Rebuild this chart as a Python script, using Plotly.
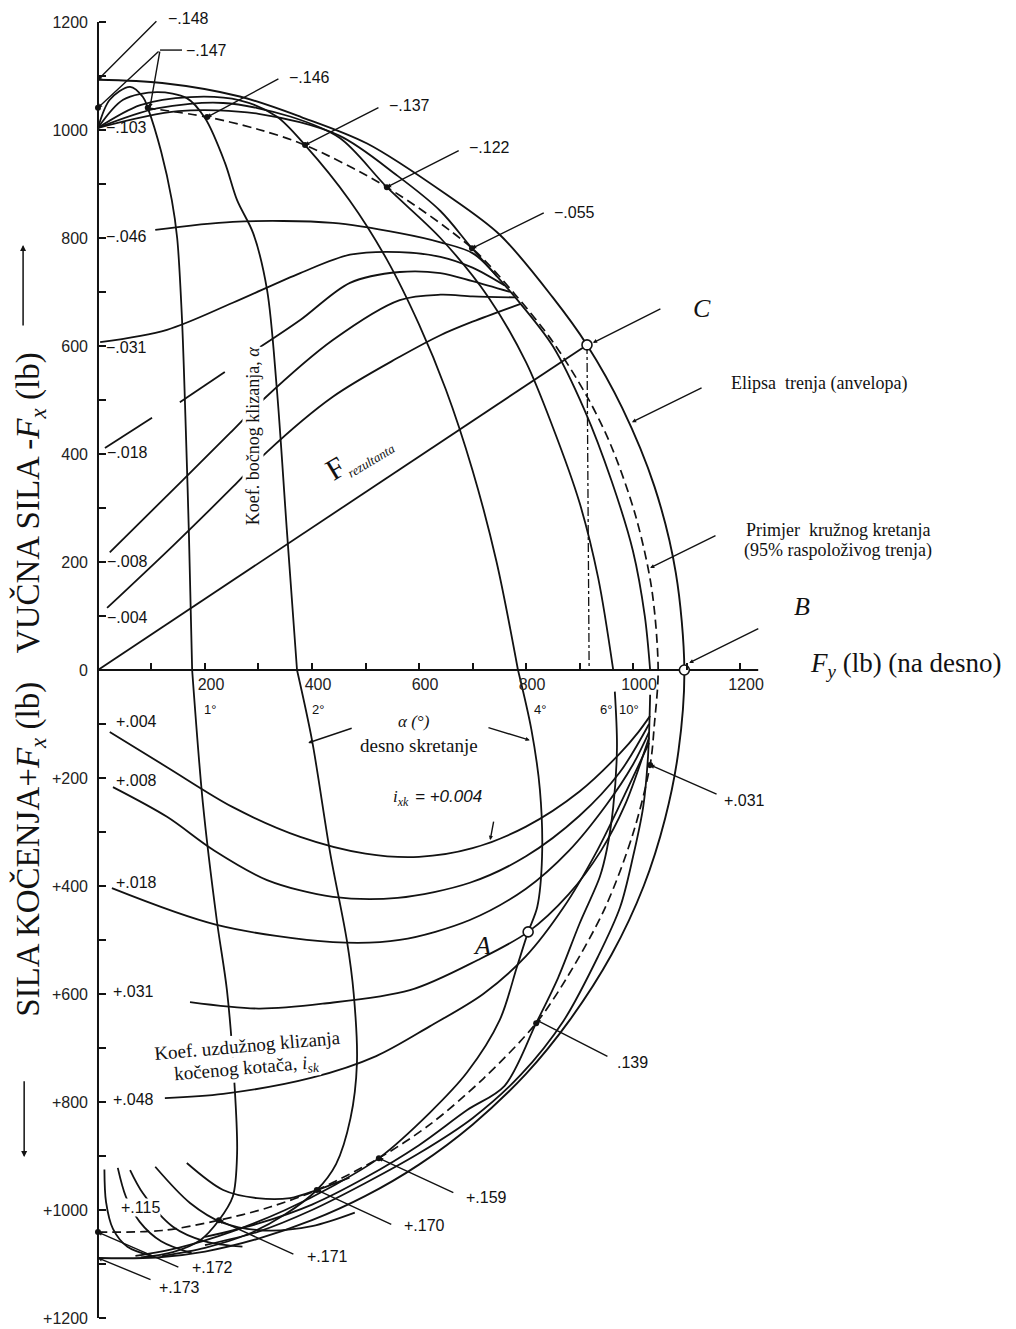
import plotly.graph_objects as go

# ---------------- data (lb) ----------------
# friction ellipse (envelope)
ellipse_x = [0, 120, 265, 380, 503, 652, 751, 850, 914, 980, 1040, 1080, 1096, 1085, 1060, 1020, 960, 882, 800, 700, 600, 500, 400, 300, 200, 110, 0]
ellipse_y = [1093, 1087, 1062, 1024, 975, 880, 806, 690, 602, 485, 340, 180, 0, -150, -275, -400, -527, -648, -748, -842, -916, -974, -1019, -1053, -1077, -1088, -1089]
# example circular path (95 % of available friction)
circle95_x = [90, 204, 300, 387, 540, 699, 780, 850, 916, 960, 1005, 1035, 1047, 1040, 1032, 1000, 948, 880, 819, 720, 620, 525, 409, 320, 226, 120, 0]
circle95_y = [1041, 1024, 1001, 972, 894, 781, 695, 608, 503, 413, 285, 150, 0, -100, -176, -303, -440, -564, -654, -757, -842, -904, -963, -995, -1019, -1038, -1041]
# resultant force and its lateral projection (point C)
resultant_x = [0, 914]
resultant_y = [0, 602]
projection_x = [914, 918]
projection_y = [602, 0]

# slip-angle curves, traction side
alpha1_up_x = [0, 22, 60, 84, 93, 118, 138, 148, 157, 164, 170, 176]
alpha1_up_y = [1004, 1056, 1080, 1061, 1041, 960, 870, 800, 650, 450, 250, 0]
alpha2_up_x = [0, 47, 110, 166, 200, 237, 260, 290, 316, 334, 353, 372]
alpha2_up_y = [1004, 1056, 1070, 1059, 1022, 940, 870, 809, 704, 524, 259, 0]
alpha4_up_x = [0, 79, 172, 265, 334, 387, 470, 540, 600, 650, 700, 745, 785]
alpha4_up_y = [1004, 1046, 1061, 1055, 1025, 972, 870, 760, 640, 520, 370, 200, 0]
alpha6_up_x = [0, 110, 234, 359, 452, 540, 640, 730, 800, 850, 900, 935, 963]
alpha6_up_y = [1004, 1040, 1050, 1025, 985, 894, 800, 690, 570, 450, 310, 170, 0]
alpha10_up_x = [0, 150, 300, 450, 560, 640, 699, 780, 850, 910, 960, 1000, 1022, 1032]
alpha10_up_y = [1004, 1035, 1030, 990, 915, 850, 781, 690, 600, 480, 350, 220, 100, 0]

# slip-angle curves, braking side
alpha1_lo_x = [176, 196, 222, 241, 255, 260, 252, 226, 191, 140, 80]
alpha1_lo_y = [0, -246, -463, -593, -765, -895, -975, -1019, -1056, -1078, -1088]
alpha2_lo_x = [372, 400, 434, 465, 478, 484, 472, 445, 409, 350, 280, 200, 120]
alpha2_lo_y = [0, -130, -339, -500, -600, -728, -830, -915, -963, -1008, -1045, -1070, -1085]
alpha4_lo_x = [785, 810, 826, 830, 821, 804, 783, 751, 690, 620, 525, 440, 350, 250, 150, 70]
alpha4_lo_y = [0, -110, -222, -346, -439, -485, -550, -648, -745, -820, -904, -955, -1000, -1040, -1070, -1085]
alpha6_lo_x = [966, 970, 963, 951, 938, 900, 860, 819, 760, 690, 600, 500, 400, 300, 200]
alpha6_lo_y = [-40, -143, -254, -333, -383, -470, -570, -654, -770, -815, -880, -940, -990, -1025, -1050]
alpha10_lo_x = [1032, 1028, 1019, 1000, 976, 935, 870, 790, 700, 600, 500, 400, 300, 200]
alpha10_lo_y = [-46, -161, -254, -346, -439, -530, -650, -750, -830, -895, -950, -1000, -1040, -1065]

# longitudinal-slip curves, traction side (-.018 is drawn in three pieces as in the source)
slip_m004_x = [17, 140, 252, 316, 439, 564, 640, 700, 790]
slip_m004_y = [115, 230, 339, 404, 506, 580, 620, 645, 678]
slip_m008_x = [22, 159, 247, 308, 439, 564, 640, 700, 780]
slip_m008_y = [218, 352, 439, 500, 611, 685, 695, 692, 690]
slip_m018a_x = [13, 101]
slip_m018a_y = [411, 467]
slip_m018b_x = [153, 237]
slip_m018b_y = [496, 552]
slip_m018c_x = [303, 378, 471, 564, 640, 700, 770]
slip_m018c_y = [598, 648, 717, 737, 735, 720, 700]
slip_m031_x = [4, 129, 252, 378, 471, 564, 640, 700, 760]
slip_m031_y = [607, 630, 680, 735, 769, 774, 765, 745, 712]
slip_m046_x = [107, 252, 439, 564, 640, 700, 745]
slip_m046_y = [815, 830, 828, 809, 792, 772, 730]

# longitudinal-slip curves, braking side
slip_p004_x = [22, 129, 252, 378, 500, 600, 700, 800, 900, 976, 1010, 1032]
slip_p004_y = [-115, -180, -254, -309, -340, -346, -330, -290, -225, -154, -115, -85]
slip_p008_x = [28, 129, 215, 316, 439, 560, 695, 800, 900, 975, 1030]
slip_p008_y = [-217, -272, -333, -389, -420, -422, -394, -345, -270, -190, -100]
slip_p018_x = [26, 222, 439, 564, 695, 800, 880, 950, 1000, 1030]
slip_p018_y = [-404, -472, -504, -500, -463, -405, -335, -250, -175, -115]
slip_p031_x = [172, 300, 420, 583, 710, 804, 880, 940, 985, 1030]
slip_p031_y = [-615, -627, -618, -593, -537, -485, -415, -335, -250, -125]
slip_p048_x = [125, 234, 400, 520, 620, 720, 800, 870, 930, 980, 1030]
slip_p048_y = [-793, -785, -755, -715, -660, -600, -530, -440, -340, -240, -135]
# high-slip braking arcs near the Fx axis
slip_hi1_x = [12, 15, 28, 55, 100]
slip_hi1_y = [-925, -985, -1035, -1068, -1085]
slip_hi2_x = [37, 52, 78, 118, 175]
slip_hi2_y = [-922, -975, -1022, -1058, -1080]
slip_hi3_x = [60, 84, 140, 200, 270]
slip_hi3_y = [-926, -969, -1031, -1058, -1068]
slip_hi4_x = [107, 172, 234, 310, 400, 480]
slip_hi4_y = [-920, -987, -1024, -1038, -1030, -1005]
slip_hi5_x = [166, 234, 297, 359, 409, 470]
slip_hi5_y = [-913, -963, -978, -978, -963, -940]

# marked operating points
dots_x = [0, 93, 204, 387, 540, 699, 1032, 819, 525, 409, 226, 0]
dots_y = [1041, 1041, 1024, 972, 894, 781, -176, -654, -904, -963, -1019, -1041]
open_x = [804, 1096, 914]   # A, B, C
open_y = [-485, 0, 602]

# axis ticks
x_tick_vals = list(range(100, 1201, 100))
x_tick_text = ["" if v % 200 else str(v) for v in x_tick_vals]
y_tick_vals = list(range(-1200, 1201, 100))
y_tick_text = ["" if v % 200 else ("0" if v == 0 else (str(v) if v > 0 else "+" + str(-v))) for v in y_tick_vals]
x_axis_span = [0, 1234]
y_axis_span = [-1200, 1200]

# ---------------- figure ----------------
INK = "#121212"
SANS = "Liberation Sans, Arial, sans-serif"
SERIF = "Liberation Serif, Times New Roman, serif"

X_RANGE = [-168.2, 1700.9]
Y_RANGE = [-1220.4, 1225.9]

fig = go.Figure()


def curve(x, y, dash="solid", width=1.8, shape="spline"):
    fig.add_trace(go.Scatter(x=x, y=y, mode="lines", hoverinfo="skip",
                             line=dict(color=INK, width=width, dash=dash, shape=shape, smoothing=0.9)))


# axis lines
curve(x_axis_span, [0, 0], width=2.0, shape="linear")
curve([0, 0], y_axis_span, width=2.0, shape="linear")

curve(ellipse_x, ellipse_y, width=1.9)
curve(circle95_x, circle95_y, dash="9px,5px", width=1.7)
curve(resultant_x, resultant_y, shape="linear")
curve(projection_x, projection_y, dash="dashdot", width=1.3, shape="linear")

for xs, ys in [(alpha1_up_x, alpha1_up_y), (alpha2_up_x, alpha2_up_y), (alpha4_up_x, alpha4_up_y),
               (alpha6_up_x, alpha6_up_y), (alpha10_up_x, alpha10_up_y),
               (alpha1_lo_x, alpha1_lo_y), (alpha2_lo_x, alpha2_lo_y), (alpha4_lo_x, alpha4_lo_y),
               (alpha6_lo_x, alpha6_lo_y), (alpha10_lo_x, alpha10_lo_y),
               (slip_m004_x, slip_m004_y), (slip_m008_x, slip_m008_y),
               (slip_m018a_x, slip_m018a_y), (slip_m018b_x, slip_m018b_y), (slip_m018c_x, slip_m018c_y),
               (slip_m031_x, slip_m031_y), (slip_m046_x, slip_m046_y),
               (slip_p004_x, slip_p004_y), (slip_p008_x, slip_p008_y), (slip_p018_x, slip_p018_y),
               (slip_p031_x, slip_p031_y), (slip_p048_x, slip_p048_y),
               (slip_hi1_x, slip_hi1_y), (slip_hi2_x, slip_hi2_y), (slip_hi3_x, slip_hi3_y),
               (slip_hi4_x, slip_hi4_y), (slip_hi5_x, slip_hi5_y)]:
    curve(xs, ys)

fig.add_trace(go.Scatter(x=dots_x, y=dots_y, mode="markers", hoverinfo="skip",
                         marker=dict(size=6, color=INK)))
fig.add_trace(go.Scatter(x=open_x, y=open_y, mode="markers", hoverinfo="skip",
                         marker=dict(size=10, color="white", line=dict(color=INK, width=1.6))))

# leader lines: (tail x, tail y, head x, head y)
leaders = [
    (112, 1204, 0, 1093), (116, 1148, 0, 1041), (116, 1148, 97, 1041), (340, 1096, 204, 1024),
    (527, 1043, 387, 972), (677, 963, 540, 894), (836, 848, 699, 781),
    (1054, 670, 925, 606), (1131, 524, 998, 459), (1157, 250, 1032, 189), (1237, 78, 1105, 13),
    (477, -107, 393, -135), (727, -106, 807, -130), (740, -278, 733, -315),
    (1159, -231, 1032, -176), (955, -717, 819, -648), (667, -969, 525, -904),
    (551, -1028, 409, -963), (368, -1083, 226, -1019), (153, -1107, 0, -1041), (101, -1130, 0, -1089),
]
annotations = []
for tx, ty, hx, hy in leaders:
    annotations.append(dict(x=hx, y=hy, ax=tx, ay=ty, xref="x", yref="y", axref="x", ayref="y",
                            text="", showarrow=True, arrowhead=2, arrowsize=0.6, arrowwidth=1.4,
                            arrowcolor=INK))
curve([157, 116], [1148, 1148], width=1.4, shape="linear")


def label(x, y, text, size=16, family=SANS, xanchor="left", angle=0, bg=None):
    d = dict(x=x, y=y, xref="x", yref="y", text=text, showarrow=False, xanchor=xanchor,
             yanchor="middle", textangle=angle, font=dict(family=family, size=size, color=INK))
    if bg:
        d["bgcolor"] = bg
        d["borderpad"] = 0
    annotations.append(d)


# slip labels
for x, y, t in [(127, 1207, "−.148"), (161, 1148, "−.147"), (353, 1098, "−.146"), (540, 1046, "−.137"),
                (690, 967, "−.122"), (849, 848, "−.055"), (12, 1004, "−.103"), (11, 802, "−.046"),
                (11, 598, "−.031"), (13, 402, "−.018"), (13, 200, "−.008"), (13, 98, "−.004"),
                (30, -96, "+.004"), (30, -204, "+.008"), (30, -394, "+.018"), (25, -596, "+.031"),
                (25, -796, "+.048"), (1166, -241, "+.031"), (966, -726, ".139"), (684, -976, "+.159"),
                (568, -1028, "+.170"), (387, -1087, "+.171"), (172, -1107, "+.172"), (110, -1144, "+.173")]:
    label(x, y, t)
label(41, -996, "+.115", bg="white")

# serif texts
label(-127, 309, "VUČNA SILA -<i>F</i><sub><i>x</i></sub> (lb)", size=33, family=SERIF, xanchor="center", angle=-90)
label(-127, -333, "SILA KOČENJA+<i>F</i><sub><i>x</i></sub> (lb)", size=33, family=SERIF, xanchor="center", angle=-90)
label(1327, 9, "<i>F</i><sub><i>y</i></sub> (lb) (na desno)", size=27, family=SERIF)
label(1129, 670, "<i>C</i>", size=26, family=SERIF, xanchor="center")
label(1316, 117, "<i>B</i>", size=26, family=SERIF, xanchor="center")
label(718, -511, "<i>A</i>", size=26, family=SERIF, xanchor="center")
label(1180, 531, "Elipsa  trenja (anvelopa)", size=18, family=SERIF)
label(1383, 259, "Primjer  kružnog kretanja", size=18, family=SERIF, xanchor="center")
label(1383, 222, "(95% raspoloživog trenja)", size=18, family=SERIF, xanchor="center")
label(290, 433, "Koef. bočnog klizanja, <i>α</i>", size=18, family=SERIF, xanchor="center", angle=-90, bg="white")
label(486, 396, "F<sub><span style='font-size:13px'><i>rezultanta</i></span></sub>", size=30, family=SERIF,
      xanchor="center", angle=-31)
label(590, -96, "<i>α (°)</i>", size=17, family=SERIF, xanchor="center")
label(600, -139, "desno skretanje", size=19, family=SERIF, xanchor="center")
label(585, -237, "<i>i</i><sub><i>xk</i></sub>", size=17, family=SERIF, xanchor="right")
label(588, -235, "<i>= +0.004</i>", size=17, family=SANS, xanchor="left")
label(279, -696, "Koef. uzdužnog klizanja", size=19, family=SERIF, xanchor="center", angle=-5, bg="white")
label(279, -738, "kočenog kotača, <i>i</i><sub><i>sk</i></sub>", size=19, family=SERIF, xanchor="center", angle=-5, bg="white")
label(209, -74, "1°", size=13, xanchor="center")
label(411, -74, "2°", size=13, xanchor="center")
label(826, -74, "4°", size=13, xanchor="center")
label(950, -74, "6°", size=13, xanchor="center")
label(993, -74, "10°", size=13, xanchor="center")

# force-direction arrows beside the axis titles
for hx, hy, tx, ty in [(-140, 787, -140, 635), (-138, -902, -138, -759)]:
    annotations.append(dict(x=hx, y=hy, ax=tx, ay=ty, xref="x", yref="y", axref="x", ayref="y",
                            text="", showarrow=True, arrowhead=2, arrowsize=0.8, arrowwidth=1.5,
                            arrowcolor=INK))

x_pos = (0 - Y_RANGE[0]) / (Y_RANGE[1] - Y_RANGE[0])
y_pos = (0 - X_RANGE[0]) / (X_RANGE[1] - X_RANGE[0])

fig.update_layout(
    width=1000, height=1321, margin=dict(l=0, r=0, t=0, b=0),
    paper_bgcolor="white", plot_bgcolor="white", showlegend=False,
    annotations=annotations,
    xaxis=dict(range=X_RANGE, anchor="free", position=x_pos, showgrid=False, zeroline=False,
               showline=False, tickmode="array", tickvals=x_tick_vals, ticktext=x_tick_text,
               ticks="inside", ticklen=7, tickwidth=1.7, tickcolor=INK, ticklabelshift=6,
               ticklabelstandoff=3,
               tickfont=dict(family=SANS, size=16, color="#222")),
    yaxis=dict(range=Y_RANGE, anchor="free", position=y_pos, showgrid=False, zeroline=False,
               showline=False, tickmode="array", tickvals=y_tick_vals, ticktext=y_tick_text,
               ticks="inside", ticklen=7, tickwidth=1.7, tickcolor=INK, ticklabelstandoff=10,
               tickfont=dict(family=SANS, size=16, color="#222")),
)

fig.write_html("out.html")
